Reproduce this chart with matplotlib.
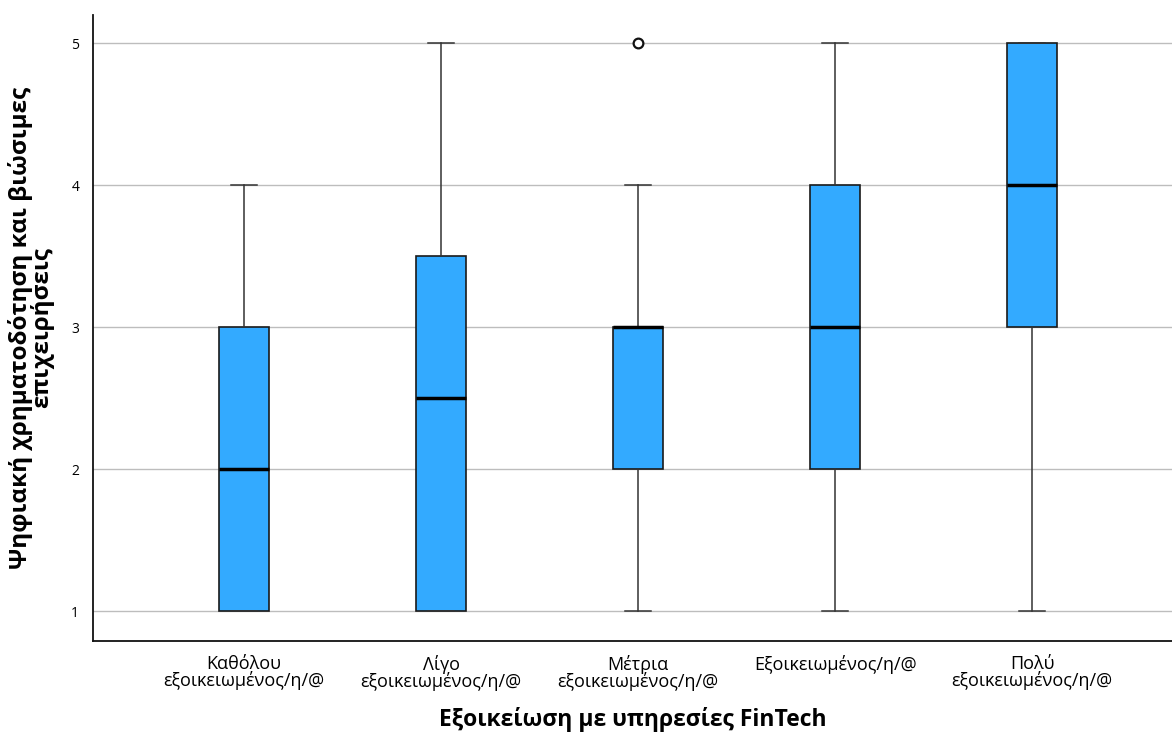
import matplotlib.pyplot as plt

# Box plot summary per familiarity group (min, Q1, median, Q3, max, outliers)
groups = ['Καθόλου\nεξοικειωμένος/η/@', 'Λίγο\nεξοικειωμένος/η/@', 'Μέτρια\nεξοικειωμένος/η/@',
          'Εξοικειωμένος/η/@', 'Πολύ\nεξοικειωμένος/η/@']
whis_low = [1, 1, 1, 1, 1]
q1 = [1, 1, 2, 2, 3]
medians = [2, 2.5, 3, 3, 4]
q3 = [3, 3.5, 3, 4, 5]
whis_high = [4, 5, 4, 5, 5]
outliers = [[], [], [5], [], []]
yticks = [1, 2, 3, 4, 5]

stats = []
for i in range(len(groups)):
    stats.append({'whislo': whis_low[i], 'q1': q1[i], 'med': medians[i], 'q3': q3[i],
                  'whishi': whis_high[i], 'fliers': outliers[i], 'label': groups[i]})

plt.rcParams['font.family'] = ['Open Sans', 'DejaVu Sans']

fig = plt.figure(figsize=(11.72, 7.36), dpi=100)
ax = fig.add_axes([0.0794, 0.129, 0.9206, 0.851])

positions = [1, 2, 3, 4, 5]
ax.bxp(stats, positions=positions, widths=0.25, patch_artist=True,
       boxprops=dict(facecolor='#33aaff', edgecolor='#1a1a1a', linewidth=1.2),
       medianprops=dict(color='black', linewidth=2.5),
       whiskerprops=dict(color='#333333', linewidth=1.1),
       capprops=dict(color='#333333', linewidth=1.1),
       capwidths=0.13,
       flierprops=dict(marker='o', markerfacecolor='white', markeredgecolor='#111111',
                       markersize=7, markeredgewidth=1.6),
       zorder=3)

ax.set_xlim(0.234, 5.71)
ax.set_ylim(0.79, 5.2)
ax.set_yticks(yticks)
ax.yaxis.grid(True, color='#bdbdbd', linewidth=1.0, zorder=0)
ax.set_axisbelow(True)
ax.tick_params(axis='both', length=0)
ax.tick_params(axis='y', labelsize=10, pad=10)
ax.tick_params(axis='x', labelsize=13, pad=10)
for lbl in ax.get_xticklabels():
    lbl.set_linespacing(0.9)

for side in ['top', 'right']:
    ax.spines[side].set_visible(False)
for side in ['left', 'bottom']:
    ax.spines[side].set_color('#111111')
    ax.spines[side].set_linewidth(1.3)

ax.set_xlabel('Εξοικείωση με υπηρεσίες FinTech', fontsize=16.5, fontweight='bold', labelpad=11)
ax.set_ylabel('Ψηφιακή χρηματοδότηση και βιώσιμες\nεπιχειρήσεις', fontsize=17.5,
              fontweight='bold', linespacing=0.85, labelpad=12)

fig.savefig('out.png', dpi=100)
